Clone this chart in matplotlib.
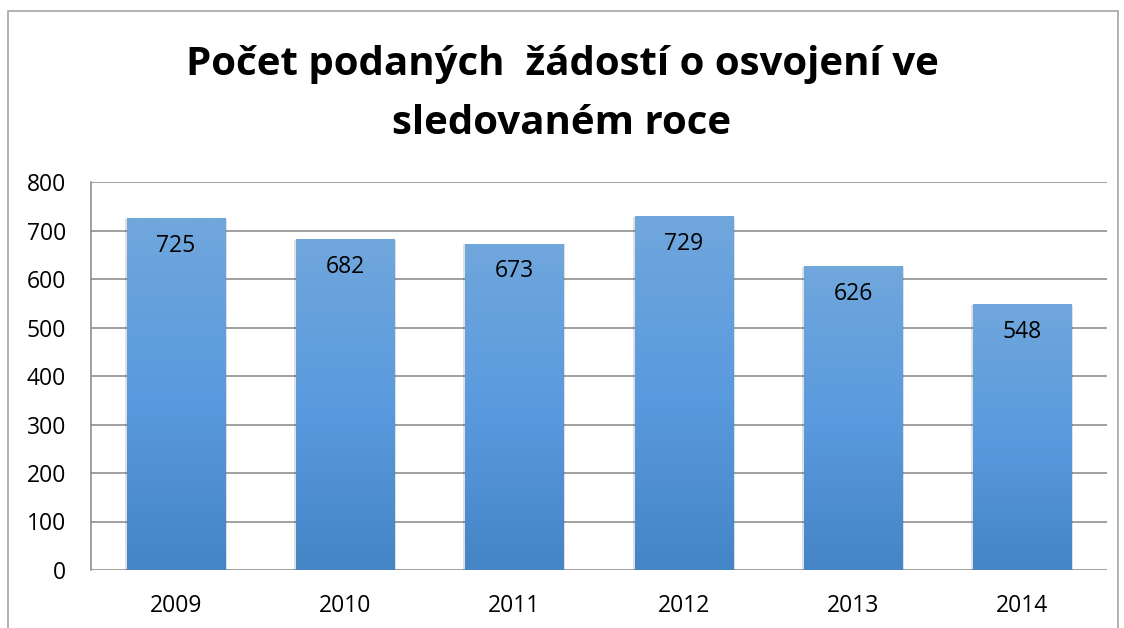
import numpy as np
import matplotlib
matplotlib.use("Agg")
import matplotlib.pyplot as plt
from matplotlib.colors import LinearSegmentedColormap
from matplotlib.patches import Rectangle

years = ["2009", "2010", "2011", "2012", "2013", "2014"]
requests = [725, 682, 673, 729, 626, 548]

plt.rcParams['font.family'] = ['Open Sans', 'DejaVu Sans']

fig = plt.figure(figsize=(11.24, 6.28), dpi=100)
ax = fig.add_axes([91/1124, 1 - 570/628, (1107 - 91)/1124, (570 - 182)/628])

# outer chart border (bottom edge is off the picture)
fig.patches.append(Rectangle((8/1124, -0.05), (1118 - 8)/1124, 1.05 - 11/628,
                             transform=fig.transFigure, fill=False,
                             edgecolor='#a6a6a6', lw=1.2))

x = np.arange(len(years))
bars = ax.bar(x, requests, width=0.58, color='#5a9ade', zorder=3)

# excel-like vertical gradient inside each bar
grad = LinearSegmentedColormap.from_list('g', ['#4485c6', '#5a9ade', '#70a7dc'])
for b in bars:
    # soft shadow
    ax.add_patch(Rectangle((b.get_x() - 0.012, -3), b.get_width() + 0.024, b.get_height() + 2,
                           color='#000000', alpha=0.12, zorder=2, lw=0))
    img = ax.imshow(np.linspace(0, 1, 256).reshape(-1, 1), cmap=grad, origin='lower',
                    extent=[b.get_x(), b.get_x() + b.get_width(), 0, b.get_height()],
                    aspect='auto', zorder=3)
    img.set_clip_path(b)

for xi, v in zip(x, requests):
    ax.annotate(str(v), (xi, v), xytext=(0, -20), textcoords='offset points',
                ha='center', va='center', fontsize=16.5, zorder=4)

ax.set_xlim(-0.5, len(years) - 0.5)
ax.set_ylim(0, 800)
ax.set_yticks(range(0, 801, 100))
ax.set_xticks(x)
ax.set_xticklabels(years)
ax.tick_params(axis='both', length=0, labelsize=16.5)
ax.tick_params(axis='y', pad=18)
ax.tick_params(axis='x', pad=17)
ax.grid(axis='y', color='#868686', lw=1.1, zorder=1)
for s in ['top', 'right', 'bottom']:
    ax.spines[s].set_visible(False)
ax.spines['left'].set_color('#868686')
ax.spines['left'].set_linewidth(1.1)

fig.text(0.5, 1 - 64/628, "Počet podaných  žádostí o osvojení ve", ha='center', va='center',
         fontsize=29, fontweight='bold')
fig.text(0.5, 1 - 123/628, "sledovaném roce", ha='center', va='center',
         fontsize=29, fontweight='bold')

fig.savefig("out.png", dpi=100)
